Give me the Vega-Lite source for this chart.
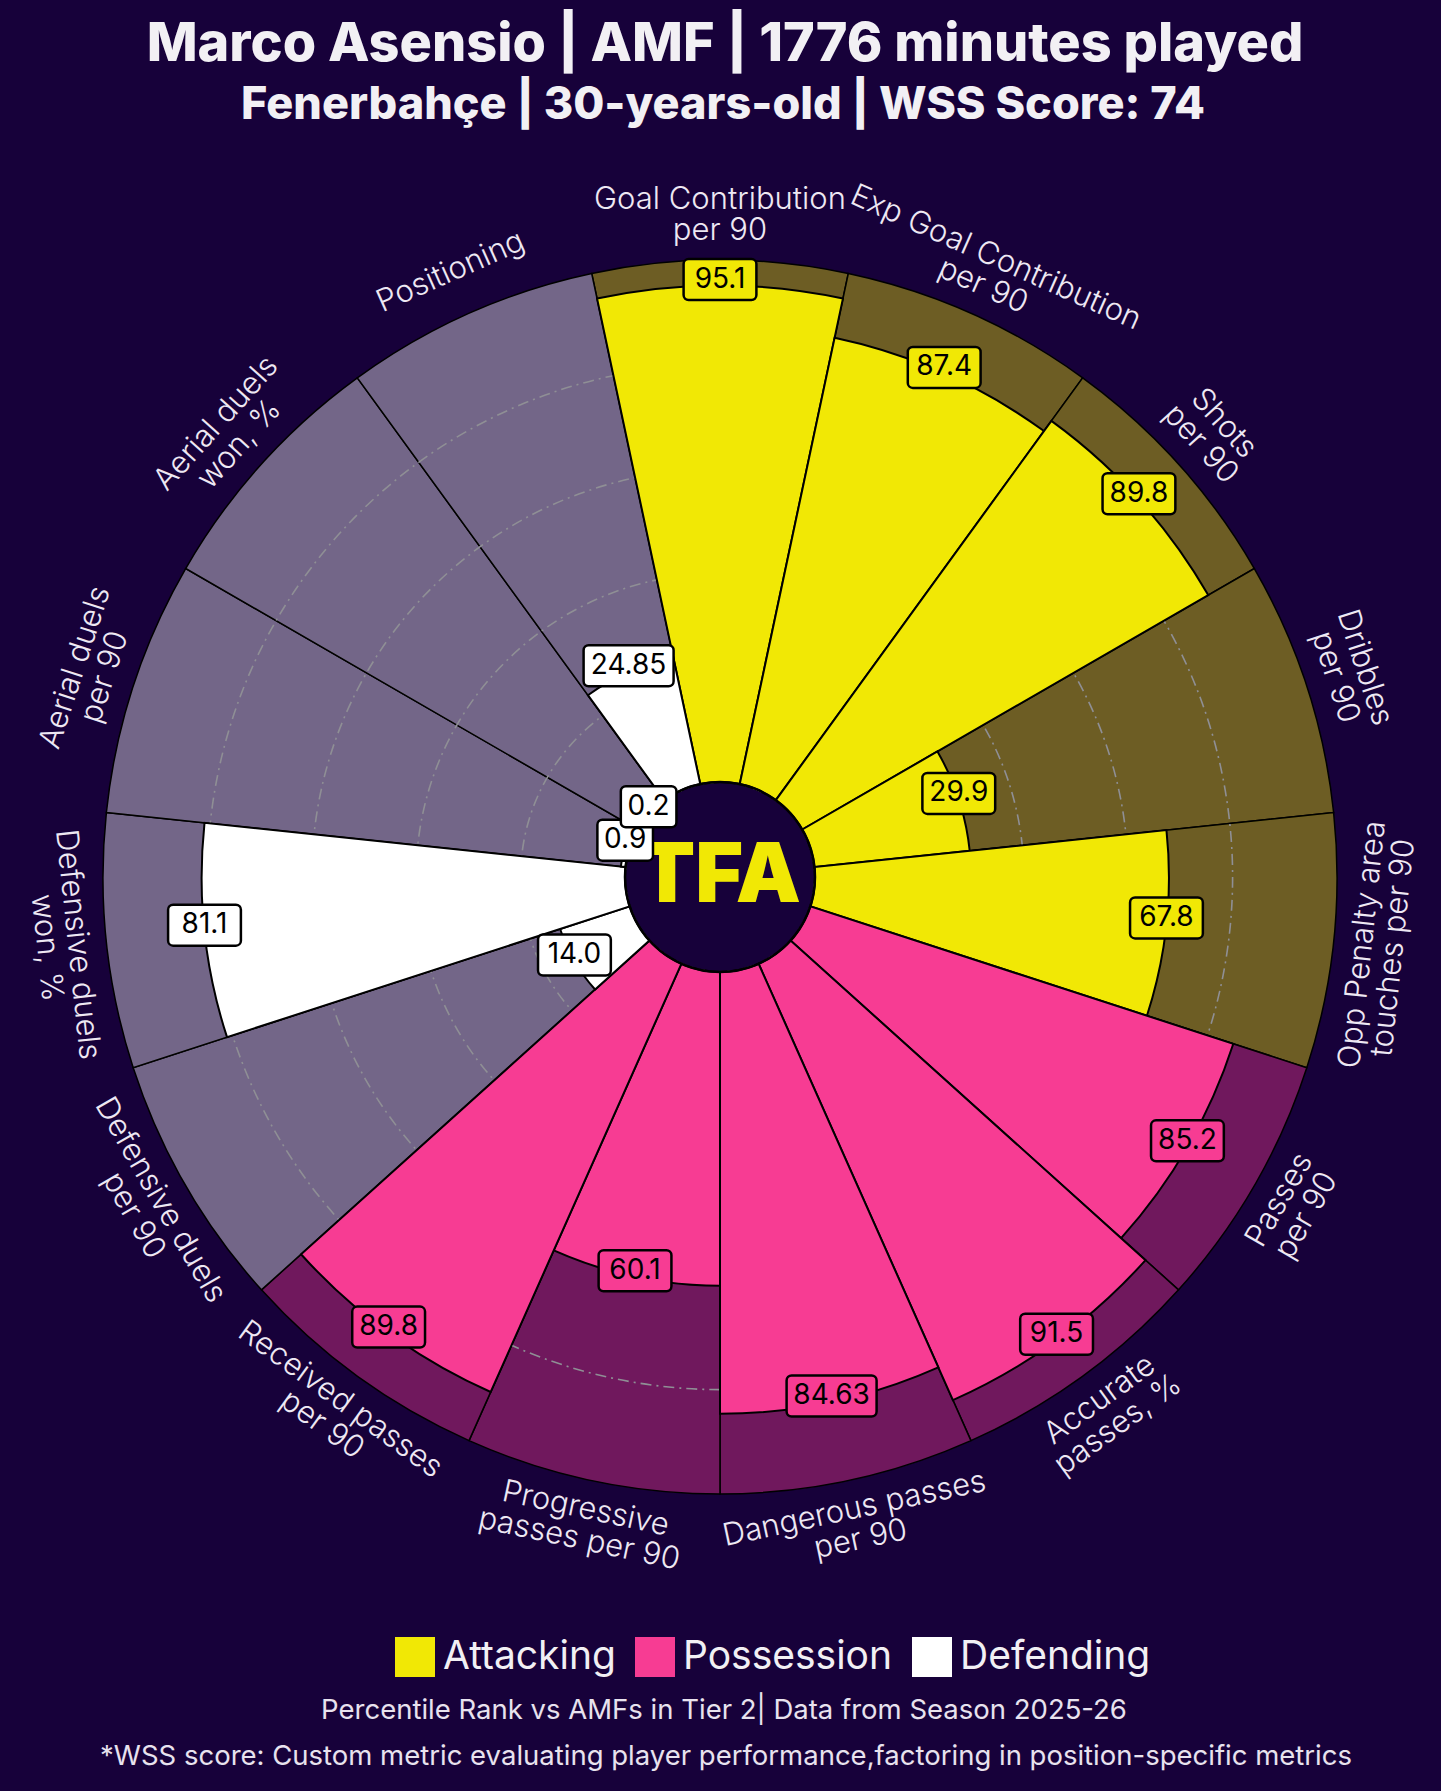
{
  "$schema": "https://vega.github.io/schema/vega-lite/v6.json",
  "width": 1441,
  "height": 1651,
  "autosize": {"type": "none"},
  "padding": {"top": 140, "left": 0, "right": 0, "bottom": 0},
  "background": "#17013A",
  "config": {"view": {"stroke": null}, "font": "Inter"},
  "data": {
    "values": [
      {"param": "Goal Contribution\nper 90", "value": 95.1, "label": "95.1", "group": "Attacking"},
      {"param": "Exp Goal Contribution\nper 90", "value": 87.4, "label": "87.4", "group": "Attacking"},
      {"param": "Shots\nper 90", "value": 89.8, "label": "89.8", "group": "Attacking"},
      {"param": "Dribbles\nper 90", "value": 29.9, "label": "29.9", "group": "Attacking"},
      {"param": "Opp Penalty area\ntouches per 90", "value": 67.8, "label": "67.8", "group": "Attacking"},
      {"param": "Passes\nper 90", "value": 85.2, "label": "85.2", "group": "Possession"},
      {"param": "Accurate\npasses, %", "value": 91.5, "label": "91.5", "group": "Possession"},
      {"param": "Dangerous passes\nper 90", "value": 84.63, "label": "84.63", "group": "Possession"},
      {"param": "Progressive\npasses per 90", "value": 60.1, "label": "60.1", "group": "Possession"},
      {"param": "Received passes\nper 90", "value": 89.8, "label": "89.8", "group": "Possession"},
      {"param": "Defensive duels\nper 90", "value": 14.0, "label": "14.0", "group": "Defending"},
      {"param": "Defensive duels\nwon, %", "value": 81.1, "label": "81.1", "group": "Defending"},
      {"param": "Aerial duels\nper 90", "value": 0.9, "label": "0.9", "group": "Defending"},
      {"param": "Aerial duels\nwon, %", "value": 0.2, "label": "0.2", "group": "Defending"},
      {"param": "Positioning", "value": 24.85, "label": "24.85", "group": "Defending"}
    ]
  },
  "transform": [
    {"window": [{"op": "row_number", "as": "k"}]},
    {"calculate": "(datum.k - 1) * 24", "as": "a"},
    {"calculate": "datum.a - 12", "as": "t0"},
    {"calculate": "datum.a + 12", "as": "t1"},
    {"calculate": "datum.a * PI / 180", "as": "ar"},
    {"calculate": "95 + 5.22 * datum.value", "as": "rv"},
    {"calculate": "datum.rv * sin(datum.ar)", "as": "xv"},
    {"calculate": "datum.rv * cos(datum.ar) + 6", "as": "yv"},
    {"calculate": "8.6 * length(datum.label) + 2", "as": "hw"},
    {"calculate": "datum.xv - datum.hw", "as": "bx0"},
    {"calculate": "datum.xv + datum.hw", "as": "bx1"},
    {"calculate": "datum.yv - 20.5", "as": "by0"},
    {"calculate": "datum.yv + 20.5", "as": "by1"},
    {"calculate": "662 * sin(datum.ar)", "as": "xp"},
    {"calculate": "662 * cos(datum.ar)", "as": "yp"},
    {"calculate": "datum.a > 90 && datum.a < 270 ? datum.a - 180 : datum.a", "as": "rot"},
    {"calculate": "indexof(datum.param, '\\n') >= 0", "as": "multi"}
  ],
  "layer": [
    {
      "mark": {"type": "arc", "stroke": "#000000", "strokeWidth": 1.5, "fillOpacity": 0.4},
      "encoding": {
        "x": {"datum": 0, "type": "quantitative", "scale": {"domain": [-720, 721], "nice": false, "zero": false}, "axis": null},
        "y": {"datum": 0, "type": "quantitative", "scale": {"domain": [-914, 737], "nice": false, "zero": false}, "axis": null},
        "theta": {"field": "t0", "type": "quantitative", "stack": null, "scale": {"type": "linear", "domain": [0, 360], "range": [0, 6.283185307179586], "zero": false, "nice": false}},
        "theta2": {"field": "t1"},
        "radius": {"datum": 100, "type": "quantitative", "stack": null, "scale": {"type": "linear", "domain": [0, 100], "range": [95, 617], "zero": false, "nice": false}},
        "radius2": {"datum": 0},
        "color": {"field": "group", "type": "nominal", "scale": {"domain": ["Attacking", "Possession", "Defending"], "range": ["#F1E805", "#F73C93", "#FFFFFF"]}}
      }
    },
    {
      "data": {"values": [{"g": 20}, {"g": 40}, {"g": 60}, {"g": 80}]},
      "mark": {"type": "arc", "filled": false, "stroke": "#8f8f95", "strokeWidth": 1.6, "strokeDash": [11, 5, 2, 5], "theta": 0, "theta2": 6.283185307179586},
      "encoding": {
        "x": {"datum": 0, "type": "quantitative", "scale": {"domain": [-720, 721], "nice": false, "zero": false}, "axis": null},
        "y": {"datum": 0, "type": "quantitative", "scale": {"domain": [-914, 737], "nice": false, "zero": false}, "axis": null},
        "radius": {"field": "g", "type": "quantitative", "stack": null, "scale": {"type": "linear", "domain": [0, 100], "range": [95, 617], "zero": false, "nice": false}}
      }
    },
    {
      "mark": {"type": "arc", "stroke": "#000000", "strokeWidth": 2},
      "encoding": {
        "x": {"datum": 0, "type": "quantitative", "scale": {"domain": [-720, 721], "nice": false, "zero": false}, "axis": null},
        "y": {"datum": 0, "type": "quantitative", "scale": {"domain": [-914, 737], "nice": false, "zero": false}, "axis": null},
        "theta": {"field": "t0", "type": "quantitative", "stack": null, "scale": {"type": "linear", "domain": [0, 360], "range": [0, 6.283185307179586], "zero": false, "nice": false}},
        "theta2": {"field": "t1"},
        "radius": {"field": "value", "type": "quantitative", "stack": null, "scale": {"type": "linear", "domain": [0, 100], "range": [95, 617], "zero": false, "nice": false}},
        "radius2": {"datum": 0},
        "color": {
          "field": "group", "type": "nominal",
          "scale": {"domain": ["Attacking", "Possession", "Defending"], "range": ["#F1E805", "#F73C93", "#FFFFFF"]},
          "legend": {
            "orient": "none", "legendX": 395, "legendY": 1497, "direction": "horizontal", "title": null,
            "symbolType": "square", "symbolSize": 1600, "symbolStrokeWidth": 0, "symbolOpacity": 1, "symbolFillOpacity": 1,
            "labelFontSize": 39, "labelFont": "Inter", "labelColor": "#F2F0F4", "labelOffset": 8,
            "columnPadding": 19, "labelLimit": 500
          }
        }
      }
    },
    {
      "data": {"values": [{"c": 0}]},
      "mark": {"type": "arc", "fill": "#17013A", "stroke": "#000000", "strokeWidth": 2.5, "theta": 0, "theta2": 6.283185307179586},
      "encoding": {
        "x": {"datum": 0, "type": "quantitative", "scale": {"domain": [-720, 721], "nice": false, "zero": false}, "axis": null},
        "y": {"datum": 0, "type": "quantitative", "scale": {"domain": [-914, 737], "nice": false, "zero": false}, "axis": null},
        "radius": {"field": "c", "type": "quantitative", "stack": null, "scale": {"type": "linear", "domain": [0, 100], "range": [95, 617], "zero": false, "nice": false}}
      }
    },
    {
      "data": {"values": [{"t": "TFA"}]},
      "mark": {"type": "text", "font": "Inter", "fontSize": 82, "fontWeight": 900, "fill": "#F1E805", "align": "center", "baseline": "middle"},
      "encoding": {
        "x": {"datum": 0, "type": "quantitative", "scale": {"domain": [-720, 721], "nice": false, "zero": false}, "axis": null},
        "y": {"datum": 0, "type": "quantitative", "scale": {"domain": [-914, 737], "nice": false, "zero": false}, "axis": null},
        "text": {"field": "t"}
      }
    },
    {
      "mark": {"type": "rect", "stroke": "#000000", "strokeWidth": 2.5, "cornerRadius": 5},
      "encoding": {
        "x": {"field": "bx0", "type": "quantitative", "scale": {"domain": [-720, 721], "nice": false, "zero": false}, "axis": null},
        "x2": {"field": "bx1"},
        "y": {"field": "by0", "type": "quantitative", "scale": {"domain": [-914, 737], "nice": false, "zero": false}, "axis": null},
        "y2": {"field": "by1"},
        "color": {"field": "group", "type": "nominal", "scale": {"domain": ["Attacking", "Possession", "Defending"], "range": ["#F1E805", "#F73C93", "#FFFFFF"]}}
      }
    },
    {
      "mark": {"type": "text", "font": "Inter", "fontSize": 28, "fill": "#000000", "align": "center", "baseline": "middle"},
      "encoding": {
        "x": {"field": "xv", "type": "quantitative", "scale": {"domain": [-720, 721], "nice": false, "zero": false}, "axis": null},
        "y": {"field": "yv", "type": "quantitative", "scale": {"domain": [-914, 737], "nice": false, "zero": false}, "axis": null},
        "text": {"field": "label"}
      }
    },
    {
      "transform": [{"filter": "datum.multi"}],
      "mark": {"type": "text", "font": "Inter", "fontSize": 31, "fontWeight": 300, "fill": "#EEE8F3", "align": "center", "baseline": "middle", "lineBreak": "\n", "lineHeight": 31, "dy": -15.5},
      "encoding": {
        "x": {"field": "xp", "type": "quantitative", "scale": {"domain": [-720, 721], "nice": false, "zero": false}, "axis": null},
        "y": {"field": "yp", "type": "quantitative", "scale": {"domain": [-914, 737], "nice": false, "zero": false}, "axis": null},
        "angle": {"field": "rot", "type": "quantitative", "scale": null},
        "text": {"field": "param"}
      }
    },
    {
      "transform": [{"filter": "!datum.multi"}],
      "mark": {"type": "text", "font": "Inter", "fontSize": 31, "fontWeight": 300, "fill": "#EEE8F3", "align": "center", "baseline": "middle"},
      "encoding": {
        "x": {"field": "xp", "type": "quantitative", "scale": {"domain": [-720, 721], "nice": false, "zero": false}, "axis": null},
        "y": {"field": "yp", "type": "quantitative", "scale": {"domain": [-914, 737], "nice": false, "zero": false}, "axis": null},
        "angle": {"field": "rot", "type": "quantitative", "scale": null},
        "text": {"field": "param"}
      }
    },
    {
      "data": {"values": [
        {"t": "Marco Asensio | AMF | 1776 minutes played", "fx": 5, "fy": 816, "fs": 54},
        {"t": "Fenerbahçe | 30-years-old | WSS Score: 74", "fx": 3, "fy": 758, "fs": 45}
      ]},
      "mark": {"type": "text", "font": "Inter", "fontWeight": 800, "fill": "#F2F0F4", "align": "center", "baseline": "alphabetic"},
      "encoding": {
        "x": {"field": "fx", "type": "quantitative", "scale": {"domain": [-720, 721], "nice": false, "zero": false}, "axis": null},
        "y": {"field": "fy", "type": "quantitative", "scale": {"domain": [-914, 737], "nice": false, "zero": false}, "axis": null},
        "size": {"field": "fs", "type": "quantitative", "scale": null},
        "text": {"field": "t"}
      }
    },
    {
      "data": {"values": [
        {"t": "Percentile Rank vs AMFs in Tier 2| Data from Season 2025-26", "fx": 4, "fy": -834},
        {"t": "*WSS score: Custom metric evaluating player performance,factoring in position-specific metrics", "fx": 6, "fy": -880}
      ]},
      "mark": {"type": "text", "font": "Inter", "fontSize": 27.5, "fill": "#E8E2EE", "align": "center", "baseline": "middle"},
      "encoding": {
        "x": {"field": "fx", "type": "quantitative", "scale": {"domain": [-720, 721], "nice": false, "zero": false}, "axis": null},
        "y": {"field": "fy", "type": "quantitative", "scale": {"domain": [-914, 737], "nice": false, "zero": false}, "axis": null},
        "text": {"field": "t"}
      }
    }
  ]
}
